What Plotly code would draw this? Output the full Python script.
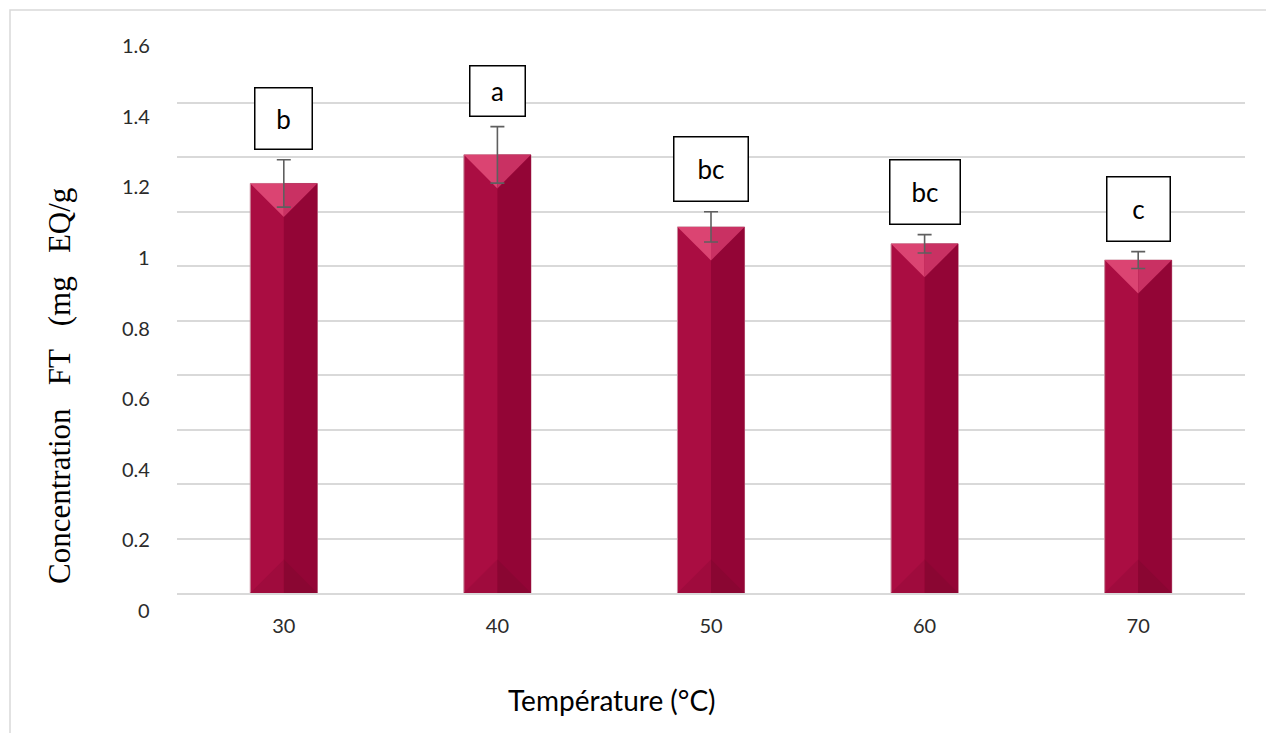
import plotly.graph_objects as go

# ---------------- data ----------------
categories = ["30", "40", "50", "60", "70"]
values = [1.208, 1.289, 1.085, 1.037, 0.991]
errors = [0.067, 0.080, 0.043, 0.026, 0.024]
letters = ["b", "a", "bc", "bc", "c"]
y_tick_values = [0, 0.2, 0.4, 0.6, 0.8, 1.0, 1.2, 1.4, 1.6]
y_tick_labels = ["0", "0.2", "0.4", "0.6", "0.8", "1", "1.2", "1.4", "1.6"]
x_title = "Température (°C)"
y_title_words = ["Concentration", "FT", "(mg", "EQ/g"]

# ---------------- layout constants (page pixels) ----------------
PAGE_W, PAGE_H = 1274, 733
BODY_MARGIN = 8            # default page margin around the plot div
FIG_W, FIG_H = PAGE_W - BODY_MARGIN, PAGE_H - BODY_MARGIN
PLOT_L, PLOT_R, PLOT_T, PLOT_B = 177, 1245, 48, 593
LABEL_ZERO_PX = 610.0      # pixel row of the "0" label
PX_PER_UNIT = 353.1        # pixels per unit on the labelled scale
Y0 = (LABEL_ZERO_PX - PLOT_B) / PX_PER_UNIT
Y1 = (LABEL_ZERO_PX - PLOT_T) / PX_PER_UNIT
PW = PLOT_R - PLOT_L
PH = PLOT_B - PLOT_T

BAR_W = 0.314
TRI_H = (BAR_W / 2 * PW / len(categories)) / PX_PER_UNIT

C_LEFT = "#aa0d42"
C_RIGHT = "#930536"
C_TOP_L = "#db4472"
C_TOP_R = "#c93163"
C_BOT_L = "#9f0b3d"
C_BOT_R = "#8a0632"
GRID = "#d9d9d9"
TEXT = "#2b2b2b"

box_sizes = [(56, 60), (54, 49), (73, 63), (69, 63), (62, 63)]

xs = list(range(len(categories)))

fig = go.Figure()

# main bar body
fig.add_trace(go.Bar(
    x=xs, y=values, width=BAR_W, marker=dict(color=C_LEFT, line=dict(color="#c98a9c", width=1)),
    yaxis="y", showlegend=False, hoverinfo="skip"))
# darker right half
fig.add_trace(go.Bar(
    x=xs, y=values, width=BAR_W / 2, offset=0, marker=dict(color=C_RIGHT, line=dict(width=0)),
    yaxis="y", showlegend=False, hoverinfo="skip"))

# bevel triangles at the top and bottom of each bar
for i, v in zip(xs, values):
    l, r = i - BAR_W / 2, i + BAR_W / 2
    tris = [
        ([l, i, i, l], [v, v, v - TRI_H, v], C_TOP_L),
        ([i, r, i, i], [v, v, v - TRI_H, v], C_TOP_R),
        ([l, i, i, l], [Y0, Y0, Y0 + TRI_H, Y0], C_BOT_L),
        ([i, r, i, i], [Y0, Y0, Y0 + TRI_H, Y0], C_BOT_R),
    ]
    for tx, ty, col in tris:
        fig.add_trace(go.Scatter(x=tx, y=ty, fill="toself", fillcolor=col, mode="lines",
                                 line=dict(width=0, color=col), showlegend=False,
                                 hoverinfo="skip", yaxis="y"))

# error bars on top
fig.add_trace(go.Scatter(
    x=xs, y=values, mode="markers", marker=dict(size=1, opacity=0),
    error_y=dict(type="data", array=errors, visible=True, color="#5f5f5f", thickness=1.6, width=7),
    showlegend=False, hoverinfo="skip", yaxis="y"))

annotations = []
# significance letters in boxes
for i, (v, e, t, (bw, bh)) in enumerate(zip(values, errors, letters, box_sizes)):
    annotations.append(dict(
        x=i, y=v + e, xref="x", yref="y", text=t, showarrow=False,
        yanchor="bottom", yshift=10, width=bw, height=bh, borderpad=0,
        bordercolor="#000000", borderwidth=1.5, bgcolor="#ffffff",
        font=dict(family="Lato", size=26, color="#000000")))

# y tick labels
for v, t in zip(y_tick_values, y_tick_labels):
    annotations.append(dict(
        x=0, y=(v - Y0) / (Y1 - Y0), xref="paper", yref="paper", text=t, showarrow=False,
        xanchor="right", yanchor="middle", xshift=-25,
        font=dict(family="Lato", size=20, color=TEXT)))

# axis titles
annotations.append(dict(
    x=(612 - PLOT_L) / PW, y=(PLOT_B - 700) / PH, xref="paper", yref="paper",
    text=x_title, showarrow=False, xanchor="center", yanchor="middle",
    font=dict(family="Lato", size=28, color="#000000")))
sep = " \u00a0\u00a0"
annotations.append(dict(
    x=(60 - PLOT_L) / PW, y=(PLOT_B - 386) / PH, xref="paper", yref="paper",
    text=sep.join(y_title_words), showarrow=False, textangle=-90,
    xanchor="center", yanchor="middle",
    font=dict(family="Liberation Serif", size=31, color="#000000")))

shapes = [dict(
    type="rect", xref="paper", yref="paper", layer="below",
    x0=(10 - PLOT_L) / PW, x1=(1290 - PLOT_L) / PW,
    y0=(PLOT_B - 750) / PH, y1=(PLOT_B - 10) / PH,
    line=dict(color=GRID, width=1.5), fillcolor="rgba(0,0,0,0)")]

fig.update_layout(
    width=FIG_W, height=FIG_H,
    margin=dict(l=PLOT_L - BODY_MARGIN, r=PAGE_W - PLOT_R,
                t=PLOT_T - BODY_MARGIN, b=PAGE_H - PLOT_B, pad=0),
    paper_bgcolor="#ffffff", plot_bgcolor="#ffffff",
    barmode="overlay", showlegend=False,
    xaxis=dict(range=[-0.5, len(categories) - 0.5], tickvals=xs, ticktext=categories,
               showgrid=False, zeroline=False, showline=True, linecolor=GRID, linewidth=1.5,
               ticks="", ticklabelstandoff=14,
               tickfont=dict(family="Lato", size=20, color=TEXT)),
    yaxis=dict(range=[Y0, Y1], showgrid=False, zeroline=False, showticklabels=False,
               showline=False, ticks=""),
    yaxis2=dict(range=[0, 10], overlaying="y", tickvals=list(range(11)), showgrid=True,
                gridcolor=GRID, gridwidth=1.5, showticklabels=False, zeroline=False,
                showline=False, ticks=""),
    annotations=annotations, shapes=shapes,
)

# make the grid axis active by attaching an empty trace
fig.add_trace(go.Scatter(x=[None], y=[None], yaxis="y2", showlegend=False, hoverinfo="skip"))

fig.write_html("out.html")
